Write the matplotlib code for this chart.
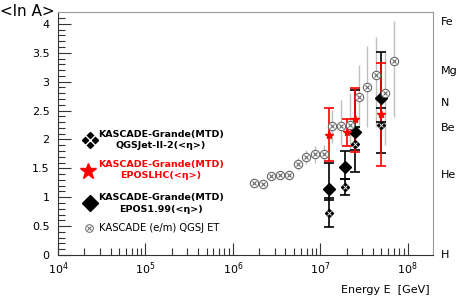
import matplotlib
matplotlib.use("Agg")
import matplotlib.pyplot as plt
import numpy as np

# KASCADE (e/m) QGSJET
kas_E = [1.74e6, 2.19e6, 2.75e6, 3.47e6, 4.37e6, 5.50e6, 6.92e6, 8.71e6, 1.10e7,
         1.38e7, 1.74e7, 2.19e7, 2.75e7, 3.47e7, 4.37e7, 5.50e7, 6.92e7]
kas_lnA = [1.24, 1.23, 1.37, 1.39, 1.39, 1.57, 1.69, 1.74, 1.74,
           2.23, 2.23, 2.25, 2.74, 2.90, 3.11, 2.80, 3.35]
kas_err_lo = [0.05, 0.05, 0.06, 0.06, 0.06, 0.10, 0.12, 0.14, 0.16,
              0.29, 0.33, 0.43, 0.55, 0.68, 0.90, 0.90, 0.96]
kas_err_hi = [0.05, 0.05, 0.06, 0.06, 0.06, 0.10, 0.12, 0.14, 0.16,
              0.28, 0.45, 0.55, 0.55, 0.71, 0.66, 0.70, 0.70]

# KASCADE-Grande(MTD) EPOS1.99
epos199_E = [1.25e7, 1.94e7, 2.51e7, 5.0e7]
epos199_lnA = [1.15, 1.52, 2.12, 2.71]
epos199_lo = [0.20, 0.20, 0.30, 0.40]
epos199_hi = [0.44, 0.28, 0.73, 0.80]

# KASCADE-Grande(MTD) QGSJet-II-2
qgs_E = [1.25e7, 1.94e7, 2.51e7, 5.0e7]
qgs_lnA = [0.73, 1.18, 1.92, 2.25]
qgs_lo = [0.24, 0.14, 0.48, 0.48]
qgs_hi = [0.25, 0.14, 0.30, 0.30]

# KASCADE-Grande(MTD) EPOSLHC
lhc_E = [1.25e7, 2.04e7, 2.51e7, 5.0e7]
lhc_lnA = [2.07, 2.12, 2.35, 2.44]
lhc_lo = [0.45, 0.24, 0.56, 0.90]
lhc_hi = [0.47, 0.24, 0.54, 0.88]

elements = ["H", "He", "Be", "N", "Mg", "Fe"]
element_A = [1, 4, 9, 14, 24, 56]

fig = plt.figure(figsize=(4.58, 2.96), dpi=100)
ax = fig.add_axes([58/458, 41/296, 375/458, 242.7/296])

ax.set_xscale("log")
ax.set_xlim(1e4, 1.95e8)
ax.set_ylim(0, 4.2)

grey = "#c0c0c0"
ax.errorbar(kas_E, kas_lnA, yerr=[kas_err_lo, kas_err_hi], fmt="none",
            ecolor=grey, elinewidth=1.0, capsize=0, zorder=1)

ax.errorbar(qgs_E, qgs_lnA, yerr=[qgs_lo, qgs_hi], fmt="none", ecolor="black",
            elinewidth=1.2, capsize=3.5, capthick=1.2, zorder=2)
ax.errorbar(epos199_E, epos199_lnA, yerr=[epos199_lo, epos199_hi], fmt="none",
            ecolor="black", elinewidth=1.2, capsize=3.5, capthick=1.2, zorder=2)
ax.errorbar(lhc_E, lhc_lnA, yerr=[lhc_lo, lhc_hi], fmt="none", ecolor="red",
            elinewidth=1.2, capsize=3.5, capthick=1.2, zorder=3)

ax.plot(qgs_E, qgs_lnA, "D", color="black", ms=4, zorder=4)
ax.plot(qgs_E, qgs_lnA, "x", color="white", ms=3, mew=0.6, zorder=4.1)
ax.plot(epos199_E, epos199_lnA, "D", color="black", ms=6, zorder=4)
ax.plot(lhc_E, lhc_lnA, "*", color="red", ms=6, zorder=5)

ax.plot(kas_E, kas_lnA, "o", mfc="white", mec="#666666", ms=6, mew=0.8, zorder=6)
ax.plot(kas_E, kas_lnA, "x", color="#666666", ms=3.2, mew=0.8, zorder=6.1)

# axes styling
for s in ["top", "right"]:
    ax.spines[s].set_color("#999999")
for s in ["left", "bottom"]:
    ax.spines[s].set_color("#333333")
ax.set_yticks(np.arange(0, 4.01, 0.5))
ax.set_yticklabels(["0", "0.5", "1", "1.5", "2", "2.5", "3", "3.5", "4"])
ax.set_yticks(np.arange(0, 4.2, 0.1), minor=True)
ax.set_xticks([1e4, 1e5, 1e6, 1e7, 1e8])
ax.tick_params(axis="both", which="major", direction="in", length=9, width=0.8,
               labelsize=8, color="#333333", top=False, right=False)
ax.tick_params(axis="both", which="minor", direction="in", length=5, width=0.8,
               color="#333333", top=False, right=False)
ax.tick_params(axis="y", pad=6)
ax.tick_params(axis="x", pad=4)

# element labels on the right
for name, A in zip(elements, element_A):
    ax.text(1.02, np.log(A) / 4.2, name, transform=ax.transAxes,
            ha="left", va="center", fontsize=8)

fig.text(0.5/458, 1 - 11/296, "<ln A>", ha="left", va="center", fontsize=11)
fig.text(430/458, 1 - 290/296, "Energy E  [GeV]", ha="right", va="center", fontsize=8)

# legend (custom)
def axpt(px, py):
    return ((px - 58) / 375, (255 - py) / 242.7)

tx = 161
x0, y0 = axpt(90, 140)
ax.plot([x0], [y0], "D", color="black", ms=8, transform=ax.transAxes, clip_on=False)
ax.plot([x0], [y0], "x", color="white", ms=7.5, mew=1.0, transform=ax.transAxes, clip_on=False)
ax.text(*axpt(tx, 134.5), "KASCADE-Grande(MTD)", transform=ax.transAxes,
        ha="center", va="center", fontsize=6.8, fontweight="bold")
ax.text(*axpt(tx, 146), "QGSJet-II-2(<η>)", transform=ax.transAxes,
        ha="center", va="center", fontsize=6.8, fontweight="bold")

x0, y0 = axpt(88.5, 170.5)
ax.plot([x0], [y0], "*", color="red", ms=12, transform=ax.transAxes, clip_on=False)
ax.text(*axpt(tx, 164.3), "KASCADE-Grande(MTD)", transform=ax.transAxes,
        ha="center", va="center", fontsize=6.8, fontweight="bold", color="red")
ax.text(*axpt(tx, 176), "EPOSLHC(<η>)", transform=ax.transAxes,
        ha="center", va="center", fontsize=6.8, fontweight="bold", color="red")

x0, y0 = axpt(90, 203.3)
ax.plot([x0], [y0], "D", color="black", ms=8.5, transform=ax.transAxes, clip_on=False)
ax.text(*axpt(tx, 197.7), "KASCADE-Grande(MTD)", transform=ax.transAxes,
        ha="center", va="center", fontsize=6.8, fontweight="bold")
ax.text(*axpt(tx, 209.3), "EPOS1.99(<η>)", transform=ax.transAxes,
        ha="center", va="center", fontsize=6.8, fontweight="bold")

x0, y0 = axpt(89.5, 228.3)
ax.plot([x0], [y0], "o", mfc="white", mec="#666666", ms=5.5, mew=0.7,
        transform=ax.transAxes, clip_on=False)
ax.plot([x0], [y0], "x", color="#666666", ms=3, mew=0.7,
        transform=ax.transAxes, clip_on=False)
ax.text(*axpt(99, 228.3), "KASCADE (e/m) QGSJ ET", transform=ax.transAxes,
        ha="left", va="center", fontsize=7.2)

fig.savefig("out.png", dpi=100)
